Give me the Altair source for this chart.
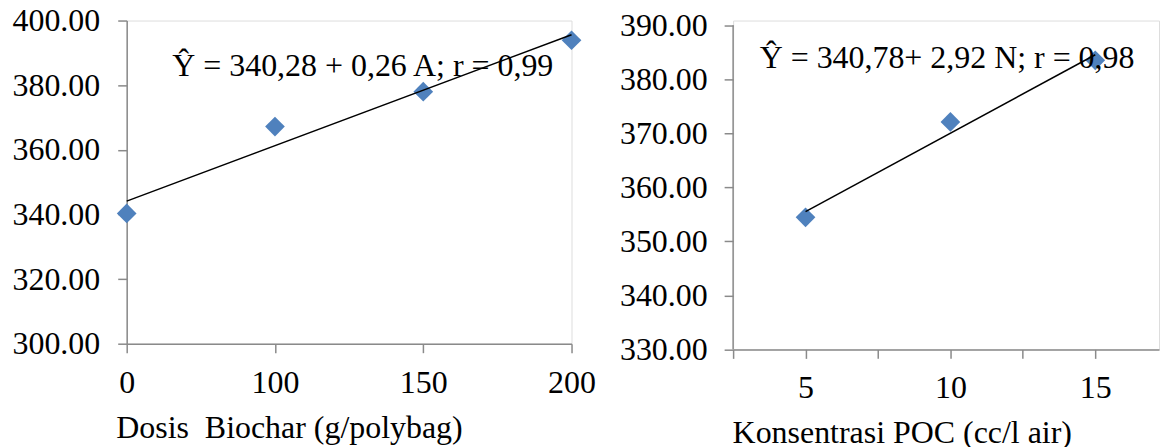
import json
import altair as alt
import pandas as pd

# ---- data ----
dose_labels = ["0", "100", "150", "200"]
dose_index = [1, 2, 3, 4]
height_biochar = [340.3, 367.2, 378.0, 393.9]

poc_conc = [5, 10, 15]
height_poc = [354.45, 372.1, 383.5]

eq_left = ["Ŷ = 340,28 + 0,26 A; r = 0,99"]
eq_right = ["Ŷ = 340,78+ 2,92 N; r = 0,98"]
title_left = "Dosis\u00a0 Biochar (g/polybag)"
title_right = "Konsentrasi POC (cc/l air)"

left_yticks = [300, 320, 340, 360, 380, 400]
right_yticks = [330, 340, 350, 360, 370, 380, 390]
right_xticks = [2.5, 5, 7.5, 10, 12.5, 15]

# ---- styles ----
FONT = "Liberation Serif"
FS = 32
BLUE = "#4F81BD"
AXIS = "#8A8A8A"

df_l = pd.DataFrame({"idx": dose_index, "dose": dose_labels, "value": height_biochar})
df_r = pd.DataFrame({"conc": poc_conc, "value": height_poc})

axis_common = dict(
    domainColor=AXIS, domainWidth=1.5, tickColor=AXIS, tickWidth=1.5, tickSize=9,
    grid=False, labelFont=FONT, labelFontSize=FS, labelColor="black",
    titleFont=FONT, titleFontSize=FS, titleColor="black", titleFontWeight="normal",
    labelOverlap=False,
)

# ---------- left panel ----------
xl = alt.X(
    "idx:Q",
    scale=alt.Scale(domain=[1, 4], nice=False, zero=False),
    axis=alt.Axis(
        values=dose_index,
        labelExpr=f"{json.dumps(dose_labels)}[datum.value - 1]",
        title=title_left, labelBaseline="alphabetic", labelPadding=39.5,
        labelFlush=False, titleAlign="left", titleAnchor="start",
        titleX=-11, titleY=94, titleBaseline="alphabetic", **axis_common,
    ),
)
yl = alt.Y(
    "value:Q",
    scale=alt.Scale(domain=[300, 400], nice=False, zero=False),
    axis=alt.Axis(values=left_yticks, format=".2f", title=None, labelPadding=18, **axis_common),
)

base_l = alt.Chart(df_l)
pts_l = base_l.mark_point(shape="diamond", filled=True, size=390, color=BLUE, opacity=1).encode(x=xl, y=yl)
trend_l = base_l.mark_line(color="black", strokeWidth=1.5).transform_regression(
    "idx", "value", extent=[1, 4]).encode(x=xl, y=yl)
txt_l = alt.Chart(pd.DataFrame({"t": eq_left})).mark_text(
    align="left", baseline="alphabetic", font=FONT, fontSize=FS, color="black"
).encode(text="t:N", x=alt.value(45.7), y=alt.value(55.4))

left = alt.layer(txt_l, pts_l, trend_l).properties(width=446, height=324)

# ---------- right panel ----------
# the right panel sits a little lower in the reference: its scale runs a bit
# above 390 and the y axis line is drawn as a rule from 330 to 390
R_TOP = 390.87
xr = alt.X(
    "conc:Q",
    scale=alt.Scale(domain=[2.5, 17.2], nice=False, zero=False),
    axis=alt.Axis(
        values=right_xticks,
        labelExpr="datum.value % 5 == 0 ? datum.label : ''",
        title=title_right, labelBaseline="alphabetic", labelPadding=39.5,
        labelFlush=False, titleAlign="left", titleAnchor="start",
        titleX=-1, titleY=93.5, titleBaseline="alphabetic", **axis_common,
    ),
)
yr = alt.Y(
    "value:Q",
    scale=alt.Scale(domain=[330, R_TOP], nice=False, zero=False),
    axis=alt.Axis(values=right_yticks, format=".2f", title=None, labelPadding=17,
                  domain=False, **axis_common),
)

base_r = alt.Chart(df_r)
axis_line_r = alt.Chart(
    pd.DataFrame({"value": [right_yticks[0]], "value2": [right_yticks[-1]]})
).mark_rule(color=AXIS, strokeWidth=1.5).encode(x=alt.value(0), y=yr, y2="value2:Q")
pts_r = base_r.mark_point(shape="diamond", filled=True, size=390, color=BLUE, opacity=1).encode(x=xr, y=yr)
trend_r = base_r.mark_line(color="black", strokeWidth=1.5).transform_regression(
    "conc", "value", extent=[5, 15]).encode(x=xr, y=yr)
txt_r = alt.Chart(pd.DataFrame({"t": eq_right})).mark_text(
    align="left", baseline="alphabetic", font=FONT, fontSize=FS, color="black"
).encode(text="t:N", x=alt.value(26.6), y=alt.value(47.3))

right = alt.layer(pts_r, axis_line_r, txt_r, trend_r).properties(width=427, height=329.7)

chart = alt.hconcat(left, right, spacing=22).properties(
    padding={"left": 3, "top": -5, "right": 0, "bottom": 0}
).configure_view(stroke=None).configure(font=FONT)

chart.save("out.html", embed_options={"renderer": "svg", "actions": False})
